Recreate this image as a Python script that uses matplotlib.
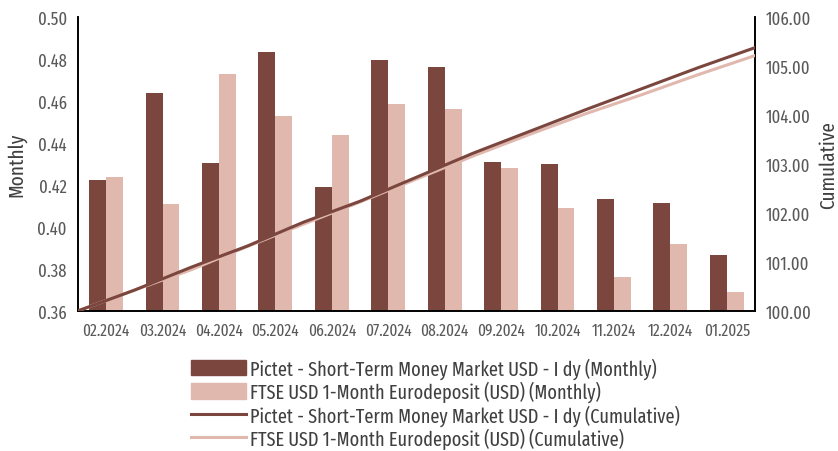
import matplotlib
matplotlib.use("Agg")
import matplotlib.pyplot as plt
from matplotlib import font_manager
import numpy as np
from matplotlib.patches import Patch
from matplotlib.lines import Line2D

_avail = {f.name for f in font_manager.fontManager.ttflist}
_pref = ['Fira Sans Extra Condensed', 'Fira Sans Condensed', 'Roboto Condensed',
         'Open Sans Condensed', 'Liberation Sans Narrow']
_fam = [f for f in _pref if f in _avail][:1] + ['DejaVu Sans']
plt.rcParams['font.family'] = _fam

months = ["02.2024", "03.2024", "04.2024", "05.2024", "06.2024", "07.2024",
          "08.2024", "09.2024", "10.2024", "11.2024", "12.2024", "01.2025"]
pictet_monthly = [0.4225, 0.4639, 0.4306, 0.4835, 0.4192, 0.4795,
                  0.4760, 0.4310, 0.4302, 0.4132, 0.4114, 0.3868]
ftse_monthly = [0.4239, 0.4111, 0.4730, 0.4527, 0.4438, 0.4587,
                0.4560, 0.4280, 0.4092, 0.3762, 0.3921, 0.3689]

name_p = "Pictet - Short-Term Money Market USD - I dy"
name_f = "FTSE USD 1-Month Eurodeposit (USD)"

# cumulative index derived from monthly returns (start 100)
pictet_cum = 100 * np.concatenate([[1.0], np.cumprod(1 + np.array(pictet_monthly) / 100)])
ftse_cum = 100 * np.concatenate([[1.0], np.cumprod(1 + np.array(ftse_monthly) / 100)])

dark = "#7B463E"
light = "#E0B8AE"
txt = "#595959"

fig = plt.figure(figsize=(8.38, 4.52), dpi=100)
ax = fig.add_axes([0.093, 0.310, 0.808, 0.650])
ax2 = ax.twinx()

x = np.arange(len(months))
w = 0.3
ax.bar(x - w / 2, pictet_monthly, width=w, color=dark, zorder=2)
ax.bar(x + w / 2, ftse_monthly, width=w, color=light, zorder=2)
ax.set_ylim(0.36, 0.50)
yt = np.arange(0.36, 0.5001, 0.02)
ax.set_yticks(yt)
ax.set_yticklabels([f"{v:.2f}" for v in yt])
ax.set_xlim(-0.5, len(months) - 0.5)
ax.set_xticks(x)
ax.set_xticklabels(months)
ax.set_ylabel("Monthly", color="#404040", fontsize=15, labelpad=8)

xl = np.arange(len(months) + 1) - 0.5
ax2.plot(xl, ftse_cum, color=light, lw=2.2, zorder=3)
ax2.plot(xl, pictet_cum, color=dark, lw=2.2, zorder=4)
ax2.set_ylim(100, 106)
yt2 = np.arange(100, 106.01, 1)
ax2.set_yticks(yt2)
ax2.set_yticklabels([f"{v:.2f}" for v in yt2])
ax2.set_ylabel("Cumulative", color="#404040", fontsize=15, labelpad=5)

for a in (ax, ax2):
    a.tick_params(length=0, labelsize=13, colors=txt, pad=8)
    a.spines['top'].set_visible(False)
    for s in ('left', 'right', 'bottom'):
        a.spines[s].set_color("black")
        a.spines[s].set_linewidth(1.2)
ax.tick_params(axis='x', labelsize=12, pad=8)

handles = [Patch(color=dark), Patch(color=light),
           Line2D([], [], color=dark, lw=2.2), Line2D([], [], color=light, lw=2.2)]
labels = [name_p + " (Monthly)", name_f + " (Monthly)",
          name_p + " (Cumulative)", name_f + " (Cumulative)"]
leg = fig.legend(handles, labels, loc="upper left", bbox_to_anchor=(0.218, 0.225),
                 frameon=False, fontsize=14.3, handlelength=2.8, handleheight=0.8,
                 labelspacing=0.09, handletextpad=0.2, borderaxespad=0)
for t in leg.get_texts():
    t.set_color("#404040")

fig.savefig("out.png", dpi=100)
